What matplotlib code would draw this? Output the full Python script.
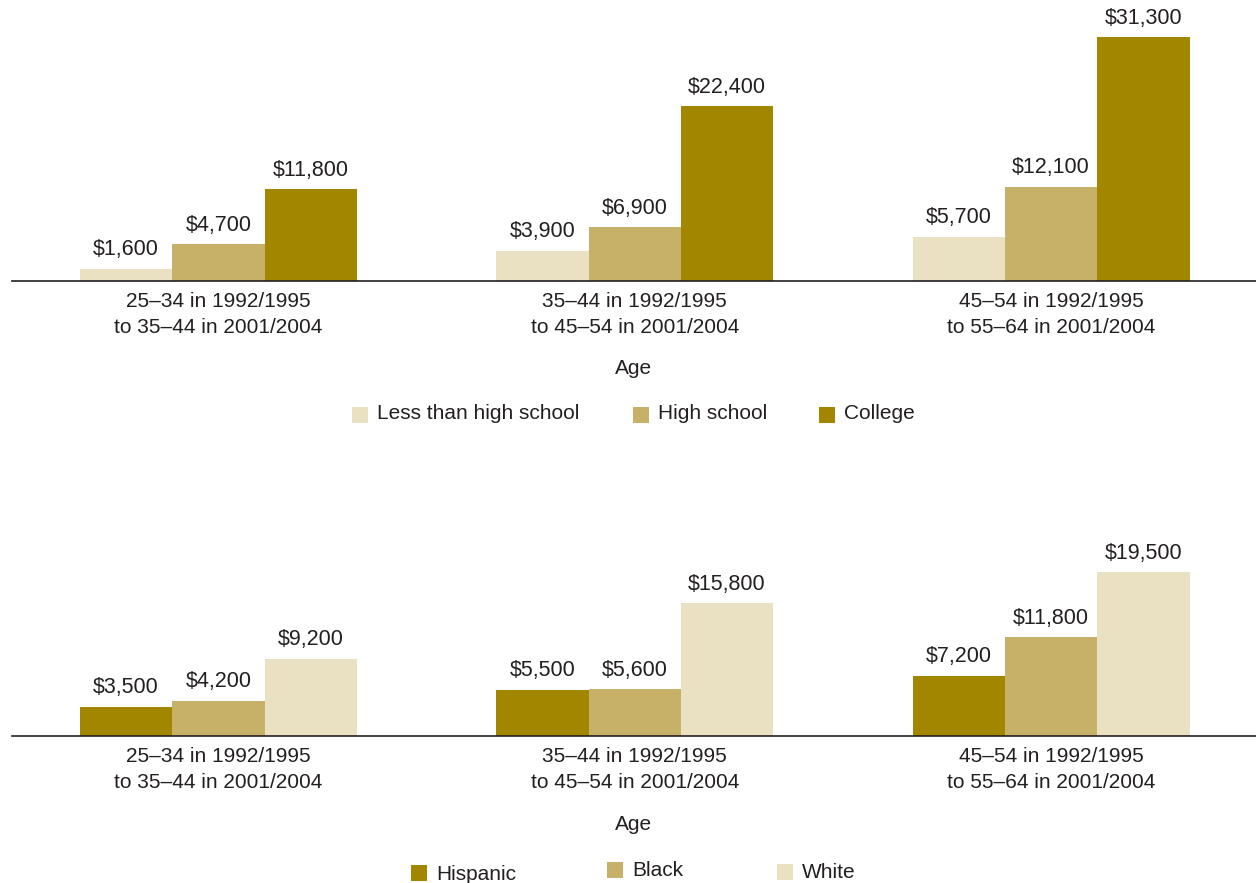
import matplotlib
matplotlib.use("Agg")
import matplotlib.pyplot as plt
from matplotlib.patches import Rectangle
import numpy as np

plt.rcParams['font.family'] = ['Liberation Sans', 'DejaVu Sans']

# Data
age_groups = ["25\u201334 in 1992/1995\nto 35\u201344 in 2001/2004",
              "35\u201344 in 1992/1995\nto 45\u201354 in 2001/2004",
              "45\u201354 in 1992/1995\nto 55\u201364 in 2001/2004"]

edu_labels = ["Less than high school", "High school", "College"]
less_than_hs = [1600, 3900, 5700]
high_school = [4700, 6900, 12100]
college = [11800, 22400, 31300]

race_labels = ["Hispanic", "Black", "White"]
hispanic = [3500, 5500, 7200]
black = [4200, 5600, 11800]
white = [9200, 15800, 19500]

LIGHT = "#EAE0C2"
MID = "#C7B067"
DARK = "#A38600"
TEXT = "#231F20"

W, H = 1256, 883
fig = plt.figure(figsize=(W / 100, H / 100), dpi=100)


def px_axes(left, top, right, bottom):
    return fig.add_axes([left / W, 1 - bottom / H, (right - left) / W, (bottom - top) / H])


def draw_panel(ax, series, colors, ymax):
    x = np.arange(len(age_groups))
    width = 0.2216
    offsets = [-width, 0, width]
    for vals, col, off in zip(series, colors, offsets):
        bars = ax.bar(x + off, vals, width=width, color=col, linewidth=0)
        for b, v in zip(bars, vals):
            ax.annotate(f"${v:,}", (b.get_x() + b.get_width() / 2, v),
                        xytext=(0, 6), textcoords="offset points",
                        ha="center", va="bottom", fontsize=15.5, color=TEXT,
                        annotation_clip=False)
    ax.set_xlim(-0.4958, 2.492)
    ax.set_ylim(0, ymax)
    for s in ["top", "left", "right"]:
        ax.spines[s].set_visible(False)
    ax.spines["bottom"].set_color(TEXT)
    ax.spines["bottom"].set_linewidth(1.2)
    ax.set_yticks([])
    ax.set_xticks(x)
    ax.set_xticklabels(age_groups, fontsize=15, color=TEXT, linespacing=1.45)
    ax.tick_params(axis="x", length=0, pad=8)
    ax.patch.set_alpha(0)


# Top panel: by education
ax1 = px_axes(12, 0, 1256, 281)
draw_panel(ax1, [less_than_hs, high_school, college], [LIGHT, MID, DARK], 281 / 0.007796)
fig.text(634 / W, 1 - 368 / H, "Age", ha="center", va="center", fontsize=15, color=TEXT)

# Bottom panel: by race
ax2 = px_axes(12, 500, 1256, 736)
draw_panel(ax2, [hispanic, black, white], [DARK, MID, LIGHT], 236 / 0.0084)
fig.text(634 / W, 1 - 824 / H, "Age", ha="center", va="center", fontsize=15, color=TEXT)


def legend_item(x, y, color, label, text_x, text_y):
    size = 16
    fig.patches.append(Rectangle((x / W, 1 - (y + size) / H), size / W, size / H,
                                 transform=fig.transFigure, color=color, linewidth=0))
    fig.text(text_x / W, 1 - text_y / H, label, ha="left", va="center",
             fontsize=15, color=TEXT)


# Legend for the education panel
legend_item(352, 407, LIGHT, edu_labels[0], 377, 414)
legend_item(633, 407, MID, edu_labels[1], 658, 414)
legend_item(819, 407, DARK, edu_labels[2], 844, 414)

# Legend for the race panel (staggered)
legend_item(411, 865, DARK, race_labels[0], 436, 874)
legend_item(607, 862, MID, race_labels[1], 632, 871)
legend_item(777, 864, LIGHT, race_labels[2], 802, 873)

fig.savefig("out.png", dpi=100)
